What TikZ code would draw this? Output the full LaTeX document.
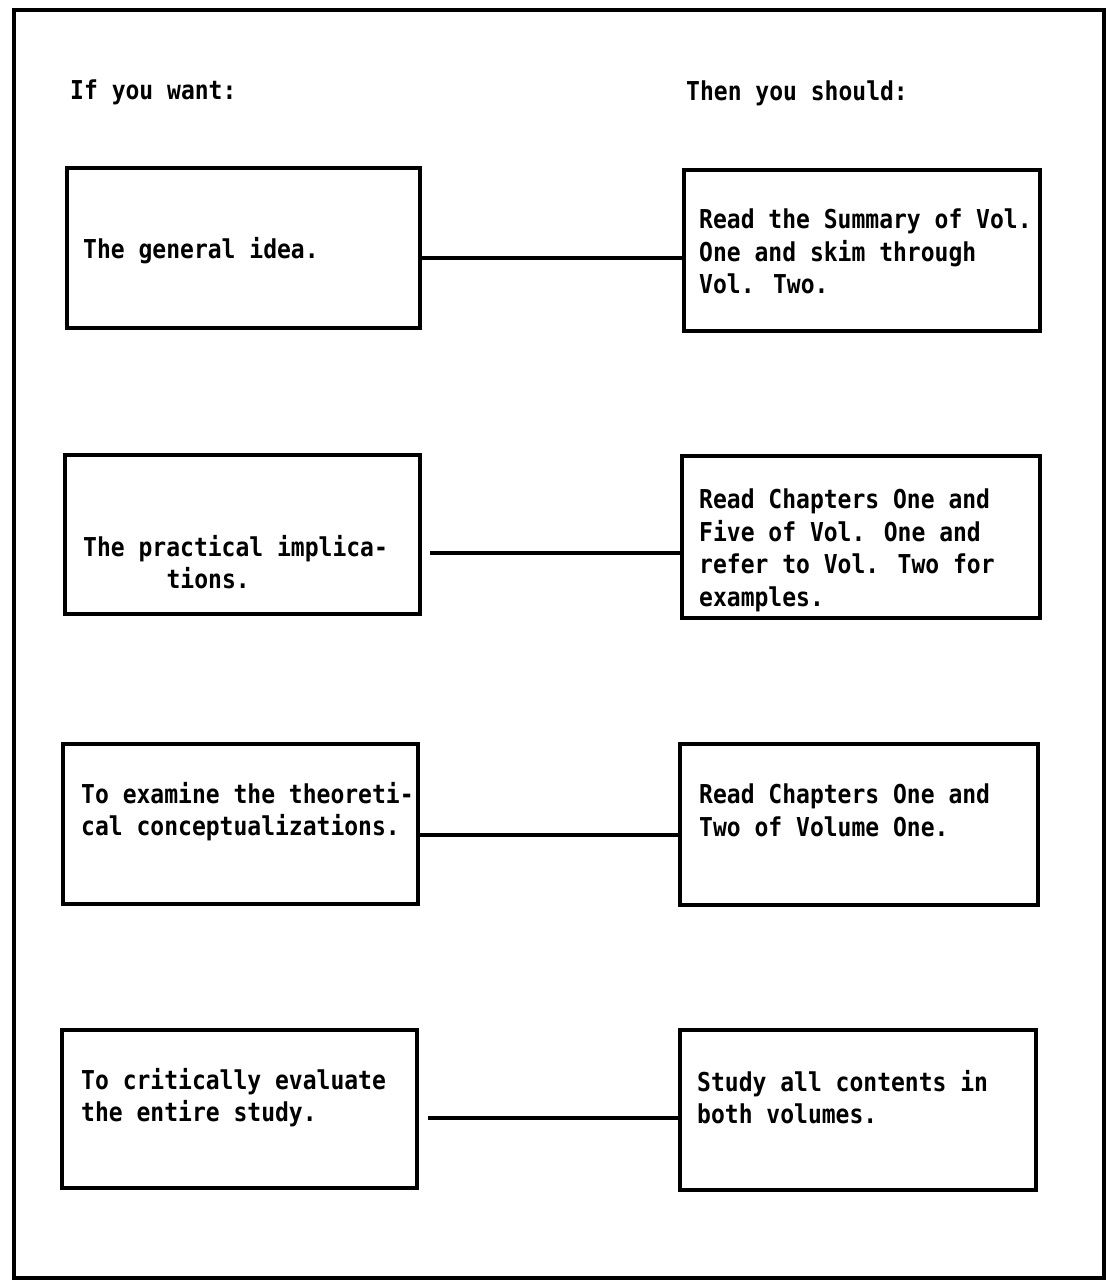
\documentclass[tikz,border=0pt]{standalone}
\usepackage{fontspec}
\newfontfamily\tw[FakeStretch=0.885]{DejaVu Sans Mono}
\usetikzlibrary{calc}
\tikzset{
  box/.style={draw, line width=3.4pt, inner sep=0pt, minimum width=#1},
  box/.default=355pt,
  txt/.style={anchor=north west, inner sep=0pt, align=left, font=\tw\bfseries\fontsize{26}{32.5}\selectfont},
  conn/.style={line width=3.2pt},
  frame/.style={line width=3.2pt}
}
\begin{document}
\begin{tikzpicture}[x=1pt,y=1pt]
\useasboundingbox (0,0) rectangle (1110,-1284);
\draw[frame] (14,-10) rectangle (1104,-1278);

\node[txt] (h1) at (70,-80) {If you want:};
\node[txt] (h2) at (686,-81) {Then you should:};

% left boxes
\node[box=353pt, minimum height=160pt] (L1) at (243.5,-248) {};
\node[box=355pt, minimum height=159pt] (L2) at (242.5,-534.5) {};
\node[box=355pt, minimum height=160pt] (L3) at (240.5,-824) {};
\node[box=355pt, minimum height=158pt] (L4) at (239.5,-1109) {};
% right boxes
\node[box=356pt, minimum height=161pt] (R1) at (862,-250.5) {};
\node[box=358pt, minimum height=162pt] (R2) at (861,-537) {};
\node[box=358pt, minimum height=161pt] (R3) at (859,-824.5) {};
\node[box=356pt, minimum height=160pt] (R4) at (858,-1110) {};

% texts
\node[txt] (t1) at (83,-237) {The general idea.};
\node[txt] (t2) at (83,-535) {The practical implica-\\\hspace*{83.4pt}tions.};
\node[txt] (t3) at (81,-782) {To examine the theoreti-\\cal conceptualizations.};
\node[txt] (t4) at (81,-1068) {To critically evaluate\\the entire study.};
\node[txt] (u1) at (699,-209) {Read the Summary of Vol.\\One and skim through\\Vol. Two.};
\node[txt] (u2) at (699,-489) {Read Chapters One and\\Five of Vol. One and\\refer to Vol. Two for\\examples.};
\node[txt] (u3) at (699,-784) {Read Chapters One and\\Two of Volume One.};
\node[txt] (u4) at (697,-1070) {Study all contents in\\both volumes.};

% connectors
\coordinate (y1) at (0,-258);
\coordinate (y2) at (0,-553);
\coordinate (y3) at (0,-835);
\coordinate (y4) at (0,-1118);
\draw[conn] ($(L1.east |- y1)+(-2,0)$) -- (R1.west |- y1);
\draw[conn] ($(L2.east |- y2)+(8,0)$) -- (R2.west |- y2);
\draw[conn] ($(L3.east |- y3)+(-4,0)$) -- (R3.west |- y3);
\draw[conn] ($(L4.east |- y4)+(9,0)$) -- (R4.west |- y4);
\end{tikzpicture}
\end{document}
